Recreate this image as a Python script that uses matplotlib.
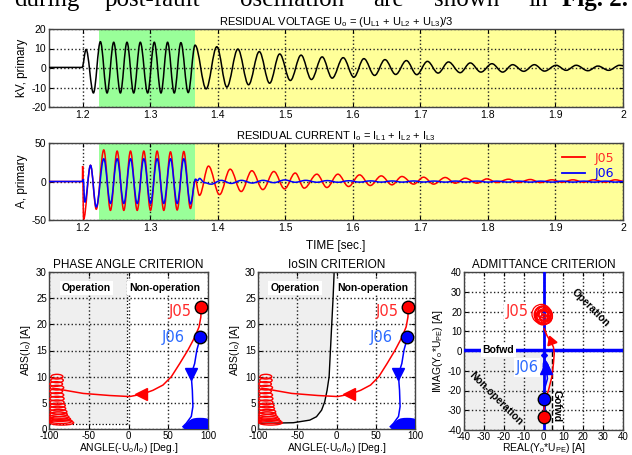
import matplotlib
matplotlib.use('Agg')
import matplotlib.pyplot as plt
from matplotlib.path import Path
from matplotlib.patches import PathPatch, Ellipse, Rectangle
from matplotlib.lines import Line2D

plt.rcParams['font.family'] = ['Liberation Sans', 'DejaVu Sans']
plt.rcParams['mathtext.default'] = 'regular'
plt.rcParams['axes.unicode_minus'] = False

# residual voltage, extrema (time s, kV)
u_t = [1.15, 1.199, 1.2049, 1.2158, 1.2261, 1.2360, 1.2458, 1.2557, 1.2655, 1.2754,
       1.2852, 1.2961, 1.3059, 1.3158, 1.3256, 1.3355, 1.3453, 1.3562, 1.3663, 1.3827,
       1.3985, 1.4134, 1.4297, 1.4455, 1.4614, 1.4767, 1.4916, 1.5074, 1.5233, 1.5386,
       1.5545, 1.5693, 1.5856, 1.6015, 1.6163, 1.6322, 1.6475, 1.6634, 1.6792, 1.6946,
       1.7104, 1.7262, 1.7416, 1.7589, 1.7738, 1.7896, 1.8059, 1.8218, 1.8366, 1.8530,
       1.8688, 1.8837, 1.9010, 1.9158, 1.9307, 1.9480, 1.9629, 1.9787, 1.9950, 2.0]
u_v = [0.3, 0.3, 9.5, -12.8, 13.5, -12.8, 13.2, -12.8, 13.2, -12.8,
       13.2, -12.8, 13.2, -12.8, 13.2, -12.8, 13.0, -12.6, 11.7, -10.7,
       10.9, -9.8, 9.7, -8.6, 8.4, -7.8, 7.2, -6.4, 6.6, -5.9,
       5.7, -5.2, 5.3, -4.7, 4.8, -3.8, 4.3, -3.3, 3.8, -3.4,
       3.4, -2.6, 3.1, -2.4, 2.6, -2.1, 2.2, -2.1, 1.7, -1.7,
       1.7, -1.6, 1.4, -1.2, 1.4, -1.4, 1.0, -1.2, 1.4, 1.2]

# residual currents (time s, A)
i05_t = [1.15, 1.1995, 1.1998, 1.2012, 1.2115, 1.2200, 1.2311, 1.2410, 1.2509, 1.2608,
         1.2707, 1.2806, 1.2904, 1.3003, 1.3101, 1.3200, 1.3299, 1.3398, 1.3496, 1.3595,
         1.3665, 1.3728, 1.3862, 1.4025, 1.4183, 1.4346, 1.4504, 1.4667, 1.4830, 1.4988,
         1.5146, 1.5279, 1.5467, 1.5615, 1.5778, 1.5936, 1.6099, 1.6257, 1.6420, 1.6578,
         1.6726, 1.6899, 1.7047, 1.7195, 1.7368, 1.7516, 1.7664, 1.7837, 1.7985, 1.8133,
         1.8306, 1.8454, 1.8627, 1.8775, 1.8948, 1.9096, 1.9259, 1.9417, 1.9565, 1.9738,
         1.9886, 2.0]
i05_v = [0, 0, 20, -49, 21, -36, 41, -37.5, 39.5, -37.5,
         39.5, -37.5, 39.5, -37.5, 39.5, -37.5, 38.5, -37, 39, -35,
         2, -18, 20, -17, 16, -13, 14, -10.5, 13, -9.5,
         11, -8.6, 9.5, -7.8, 9.5, -6.5, 8.6, -5.2, 7.3, -4.3,
         6.5, -3.4, 5.6, -3.4, 5.2, -2.2, 4.3, -2.2, 3.4, -1.3,
         3.0, -1.3, 2.6, -1.3, 2.2, -0.9, 2.2, -0.9, 2.2, -0.9,
         2.2, 0.5]
i06_t = [1.15, 1.2, 1.2008, 1.2030, 1.2115, 1.2200, 1.2311, 1.2410, 1.2509, 1.2608,
         1.2707, 1.2806, 1.2904, 1.3003, 1.3101, 1.3200, 1.3299, 1.3398, 1.3496, 1.3595,
         1.3670, 1.3700, 1.3730, 1.3800, 1.3900, 1.4050, 1.4200, 1.4350, 1.4510, 1.4670,
         1.4830, 1.4990, 1.5150, 1.5300, 1.5470, 1.5620, 1.5780, 1.5940, 1.6100, 1.6260,
         1.6420, 1.6580, 1.6730, 1.6900, 1.7050, 1.7200, 1.7370, 1.7520, 1.7670, 1.7840,
         1.8000, 1.8130, 1.8300, 1.8450, 1.8630, 1.8780, 1.8950, 1.9100, 1.9260, 1.9420,
         1.9570, 1.9740, 1.9890, 2.0]
i06_v = [0, 0, 3, -27, 21, -33, 29.5, -28.5, 29.5, -28.5,
         29.5, -28.5, 29.5, -28.5, 29.5, -28.5, 29.5, -28.5, 29.5, -29,
         3, 1, 4, -1.5, -3.5, 1.5, -2.5, 1.5, -2.0, 1.5,
         -1.5, 2.0, -1.0, 1.5, -1.0, 1.2, -1.0, 1.0, -0.8, 0.8,
         -0.8, 0.7, -0.8, 0.7, -0.7, 0.6, -0.8, 0.6, -0.7, 0.6,
         -0.8, 0.5, -0.8, 0.5, -0.8, 0.5, -0.8, 0.5, -0.8, 0.5,
         -0.8, 0.5, -0.8, 0]

green_span = (1.224, 1.366)

# phase angle / IoSIN trajectories (deg, A)
j05_ang = [91.5, 91, 88.7, 83.2, 74.8, 64.4, 53.9, 43.4, 30.8, 18.2, 1.5, -23.7, -57, -80, -95]
j05_abs = [23.3, 21.4, 19.5, 17.5, 15.1, 12.5, 10, 8.4, 7.4, 6.7, 6.2, 6.4, 6.8, 7.4, 7.8]
j05_loop_ang = [-90, -90, -91, -90, -91, -90, -90, -90, -89, -89, -88, -88, -87, -86, -85, -84]
j05_loop_abs = [10.0, 9.3, 8.6, 7.9, 7.2, 6.5, 5.8, 5.1, 4.5, 3.9, 3.3, 2.8, 2.3, 1.9, 1.5, 1.2]
j05_loop_w = [15, 16, 16, 17, 16, 17, 18, 18, 19, 20, 21, 22, 24, 26, 28, 30]
j06_ang = [89.5, 88, 86, 83.2, 79, 79.5, 80.3, 81, 79, 72.7, 68.5]
j06_abs = [17.5, 16.2, 15.1, 12.5, 10.5, 9, 7.4, 4.3, 2.4, 1.1, 0.45]
j06_loop_ang = [85, 86, 87, 88, 89, 90]
j06_loop_abs = [0.3, 0.6, 0.9, 1.2, 1.45, 1.65]
j06_loop_w = [30, 29, 27, 25, 23, 20]
arrow05_ph = (16, 6.6)
arrow06_ph = (78.5, 10.5)

op_ang_max = -2
op_abs_min = 1
iosin_ang = [-100, -80, -55, -34, -25.5, -19, -15, -12, -9.4, -7.7, -6, -4.3, -3]
iosin_abs = [1.1, 1.12, 1.2, 1.7, 2.35, 3.6, 5.2, 7.4, 10, 15.1, 20.2, 25.2, 30]

# admittance plane (A)
gofwd = 4.2
bofwd = 0.5
a05_re = [0, 0.3, 0.8, 2.5, 4.2, 5, 5.4, 5, 4.2, 1.7, 0.3]
a05_im = [-33.6, -29, -25, -19.9, -13.1, -6.4, -1.3, 2, 3.7, 7.9, 11.3]
a05_loop_re = [0, 0.5, -0.5, 0.3, -0.3, 0.8, -0.8, 0, 0.2, -0.2, -1.0, 0.6, -0.4, 0.1]
a05_loop_im = [18, 17.5, 18.5, 17, 19, 18, 17.5, 18.2, 16.5, 19.5, 18.8, 19.2, 16.8, 17.8]
a05_loop_r = [4.5, 4.0, 4.2, 3.5, 3.8, 3.0, 3.2, 2.5, 2.0, 2.8, 4.8, 1.5, 3.6, 1.0]
a06_re = [0, 0.3, 1.3, 2.0, 1.7, 1.3, 0.8, 0.5, 0]
a06_im = [-24.4, -19.9, -16.5, -14, -11.5, -8.4, -6, -4, -2]
a06_loop_re = [1.2, 1.5, 0.8]
a06_loop_im = [-8.5, -9.5, -7.0]
a06_loop_w = [2.6, 3.2, 1.8]
a06_loop_h = [5, 4, 4]
arrow05_adm = (3.7, 5)
arrow06_adm = (1.3, -8.4)

RED = '#ff0000'
BLUE = '#0000ff'
RED_T = '#ff2a2a'
BLUE_T = '#2a6aff'

fig = plt.figure(figsize=(6.32, 4.55), dpi=100)


def px_axes(l, t, r, b):
    return fig.add_axes([l / 632, 1 - b / 455, (r - l) / 632, (b - t) / 455])


def style(ax, size=7.5, pad=2):
    ax.grid(True, color='#222222', ls=':', lw=1.0)
    ax.tick_params(direction='in', top=True, right=True, labelsize=size, length=3, pad=pad)
    for s in ax.spines.values():
        s.set_color('#444444')
        s.set_linewidth(1.0)


def wave(ax, t, v, color, lw=1.1, k=0.36):
    verts = [(t[0], v[0])]
    codes = [Path.MOVETO]
    for i in range(1, len(t)):
        dt = t[i] - t[i - 1]
        verts += [(t[i - 1] + k * dt, v[i - 1]), (t[i] - k * dt, v[i]), (t[i], v[i])]
        codes += [Path.CURVE4] * 3
    ax.add_patch(PathPatch(Path(verts, codes), fill=False, ec=color, lw=lw, zorder=3))


# header line of the page, cut at the top
hdr_y = 1 - 6 / 455
for word, x in [('during', 14), ('post-fault', 105), ('oscillation', 240), ('are', 373),
                ('shown', 434), ('in', 528)]:
    fig.text(x / 632, hdr_y, word, family='Liberation Serif', fontsize=18, va='baseline')
fig.text(562 / 632, hdr_y, 'Fig. 2.', family='Liberation Serif', fontsize=18,
         fontweight='bold', va='baseline')

ax_u = px_axes(49, 29, 623, 107)
ax_i = px_axes(49, 143, 623, 220)
for ax in (ax_u, ax_i):
    style(ax)
    ax.axvspan(green_span[0], green_span[1], color='#99ff99', zorder=0.5, lw=0)
    ax.axvspan(green_span[1], 2.0, color='#ffff99', zorder=0.5, lw=0)
    ax.set_xlim(1.15, 2.0)
    ax.set_xticks([1.2, 1.3, 1.4, 1.5, 1.6, 1.7, 1.8, 1.9, 2.0])
    ax.set_xticklabels(['1.2', '1.3', '1.4', '1.5', '1.6', '1.7', '1.8', '1.9', '2'])

wave(ax_u, u_t, u_v, 'k')
ax_u.set_ylim(-20, 20)
ax_u.set_yticks([-20, -10, 0, 10, 20])
ax_u.set_ylabel('kV, primary', fontsize=8.5, labelpad=2)
ax_u.set_title('RESIDUAL VOLTAGE U$_o$ = (U$_{L1}$ + U$_{L2}$ + U$_{L3}$)/3', fontsize=8, pad=3)

wave(ax_i, i05_t, i05_v, RED)
wave(ax_i, i06_t, i06_v, BLUE)
ax_i.set_ylim(-50, 50)
ax_i.set_yticks([-50, 0, 50])
ax_i.set_ylabel('A, primary', fontsize=8.5, labelpad=2)
ax_i.set_xlabel('TIME [sec.]', fontsize=8.5, labelpad=5)
ax_i.set_title('RESIDUAL CURRENT I$_o$ = I$_{L1}$ + I$_{L2}$ + I$_{L3}$', fontsize=8, pad=3)
handles = [Line2D([], [], color=RED, lw=1.3), Line2D([], [], color=BLUE, lw=1.3)]
ax_i.legend(handles, ['J05', 'J06'], loc='upper right', frameon=False,
            labelcolor=[RED_T, BLUE], handlelength=1.8, borderaxespad=0.3,
            labelspacing=0.2, prop={'family': 'DejaVu Sans', 'size': 9})

ax_p = px_axes(49, 272, 208, 429)
ax_s = px_axes(258, 272, 415, 429)
ax_y = px_axes(464, 272, 623, 430)


def polar_panel(ax, title):
    style(ax, 7, 1.5)
    ax.set_xlim(-100, 100)
    ax.set_ylim(0, 30)
    ax.set_xticks([-100, -50, 0, 50, 100])
    ax.set_yticks([0, 5, 10, 15, 20, 25, 30])
    ax.set_title(title, fontsize=8.5, pad=3)
    ax.set_xlabel('ANGLE(-U$_o$/I$_o$) [Deg.]', fontsize=7.5, labelpad=0)
    ax.set_ylabel('ABS(I$_o$) [A]', fontsize=7.5, labelpad=2)
    box = dict(fc='white', ec='none', pad=1.5)
    ax.text(-53, 27, 'Operation', ha='center', va='center', fontsize=7.5,
            fontweight='bold', bbox=box, zorder=4)
    ax.text(46, 27, 'Non-operation', ha='center', va='center', fontsize=7.5,
            fontweight='bold', bbox=box, zorder=4)
    ax.plot(j05_ang, j05_abs, color=RED, lw=1.1, zorder=3)
    for x, y, w in zip(j05_loop_ang, j05_loop_abs, j05_loop_w):
        ax.add_patch(Ellipse((x, y), w, 0.9, fill=False, ec=RED, lw=1.0, zorder=3))
    ax.plot(j06_ang, j06_abs, color=BLUE, lw=1.1, zorder=3)
    for x, y, w in zip(j06_loop_ang, j06_loop_abs, j06_loop_w):
        ax.add_patch(Ellipse((x, y), w, 0.55, fill=False, ec=BLUE, lw=1.6, zorder=3))
    ax.plot(*arrow05_ph, marker='<', color=RED, ms=8, zorder=4)
    ax.plot(*arrow06_ph, marker='v', color=BLUE, ms=8, zorder=4)
    ax.plot(j05_ang[0], j05_abs[0], 'o', mfc=RED, mec='k', ms=9, zorder=5, clip_on=False)
    ax.plot(j06_ang[0], j06_abs[0], 'o', mfc=BLUE, mec='k', ms=9, zorder=5, clip_on=False)
    ax.text(j05_ang[0] - 27, j05_abs[0] - 0.8, 'J05', color=RED_T, fontsize=10.5,
            family='DejaVu Sans', ha='center', va='center', zorder=4)
    ax.text(j06_ang[0] - 33, j06_abs[0], 'J06', color=BLUE_T, fontsize=10.5,
            family='DejaVu Sans', ha='center', va='center', zorder=4)


polar_panel(ax_p, 'PHASE ANGLE CRITERION')
ax_p.add_patch(Rectangle((-100, op_abs_min), op_ang_max + 100, 30 - op_abs_min,
                         fc='#efefef', ec='none', zorder=0.5))
ax_p.plot([op_ang_max, op_ang_max], [op_abs_min, 30], color='k', ls=':', lw=0.9)
ax_p.plot([-100, op_ang_max], [op_abs_min, op_abs_min], color='k', ls=':', lw=0.9)

polar_panel(ax_s, 'IoSIN CRITERION')
ax_s.fill_betweenx(iosin_abs, -100, iosin_ang, color='#efefef', lw=0, zorder=0.5)
ax_s.plot(iosin_ang, iosin_abs, color='k', lw=1.0, zorder=2.5)

# admittance criterion
style(ax_y, 7, 1.5)
ax_y.set_xlim(-40, 40)
ax_y.set_ylim(-40, 40)
ticks = [-40, -30, -20, -10, 0, 10, 20, 30, 40]
ax_y.set_xticks(ticks)
ax_y.set_yticks(ticks)
ax_y.set_title('ADMITTANCE CRITERION', fontsize=8.5, pad=3)
ax_y.set_xlabel('REAL(Y$_o$*U$_{PE}$) [A]', fontsize=7.5, labelpad=-1)
ax_y.set_ylabel('IMAG(Y$_o$*U$_{PE}$) [A]', fontsize=7.5, labelpad=2)
ax_y.add_patch(Rectangle((-40, -40), gofwd + 40, bofwd + 40, fc='#efefef', ec='none', zorder=0.5))
ax_y.plot([gofwd, gofwd], [-40, bofwd], color='k', ls='--', lw=1.0, zorder=2)
ax_y.axhline(bofwd, color=BLUE, lw=2.5, zorder=2.6)
ax_y.axvline(0, color=BLUE, lw=2.0, zorder=2.6)
ax_y.plot(a05_re, a05_im, color=RED, lw=1.1, zorder=3)
for x, y, r in zip(a05_loop_re, a05_loop_im, a05_loop_r):
    ax_y.add_patch(Ellipse((x, y), 2 * r, 2 * r, fill=False, ec=RED, lw=0.9, zorder=3))
ax_y.plot(a06_re, a06_im, color=BLUE, lw=1.1, zorder=3)
for x, y, w, h in zip(a06_loop_re, a06_loop_im, a06_loop_w, a06_loop_h):
    ax_y.add_patch(Ellipse((x, y), w, h, fill=False, ec=BLUE, lw=1.0, zorder=3))
ax_y.plot(a06_re[-1], a06_im[-1], marker='D', color=BLUE, ms=3, zorder=4)
ax_y.plot(*arrow05_adm, marker=(3, 0, 20), color=RED, ms=8, zorder=4)
ax_y.plot(*arrow06_adm, marker='^', color=BLUE, ms=8, zorder=4)
ax_y.plot(a05_re[0], a05_im[0], 'o', mfc=RED, mec='k', ms=9, zorder=5)
ax_y.plot(a06_re[0], a06_im[0], 'o', mfc=BLUE, mec='k', ms=9, zorder=5)
wbox = dict(fc='white', ec='none', pad=1.2)
ax_y.text(-22.7, bofwd, 'Bofwd', fontsize=7.5, fontweight='bold', ha='center', va='center',
          bbox=wbox, zorder=4)
ax_y.text(6.5, -28, 'Gofwd', fontsize=7.5, fontweight='bold', ha='center', va='center',
          rotation=-90, zorder=4)
ax_y.text(23.5, 22, 'Operation', fontsize=7.5, fontweight='bold', ha='center', va='center',
          rotation=-45, zorder=4)
ax_y.text(-24, -24, 'Non-operation', fontsize=7.5, fontweight='bold', ha='center', va='center',
          rotation=-45, zorder=4)
ax_y.text(-13.4, 20.2, 'J05', color=RED_T, fontsize=10.5, family='DejaVu Sans',
          ha='center', va='center', bbox=wbox, zorder=4)
ax_y.text(-8.4, -8.4, 'J06', color=BLUE_T, fontsize=10.5, family='DejaVu Sans',
          ha='center', va='center', bbox=wbox, zorder=4)

fig.savefig('out.png', dpi=100)
